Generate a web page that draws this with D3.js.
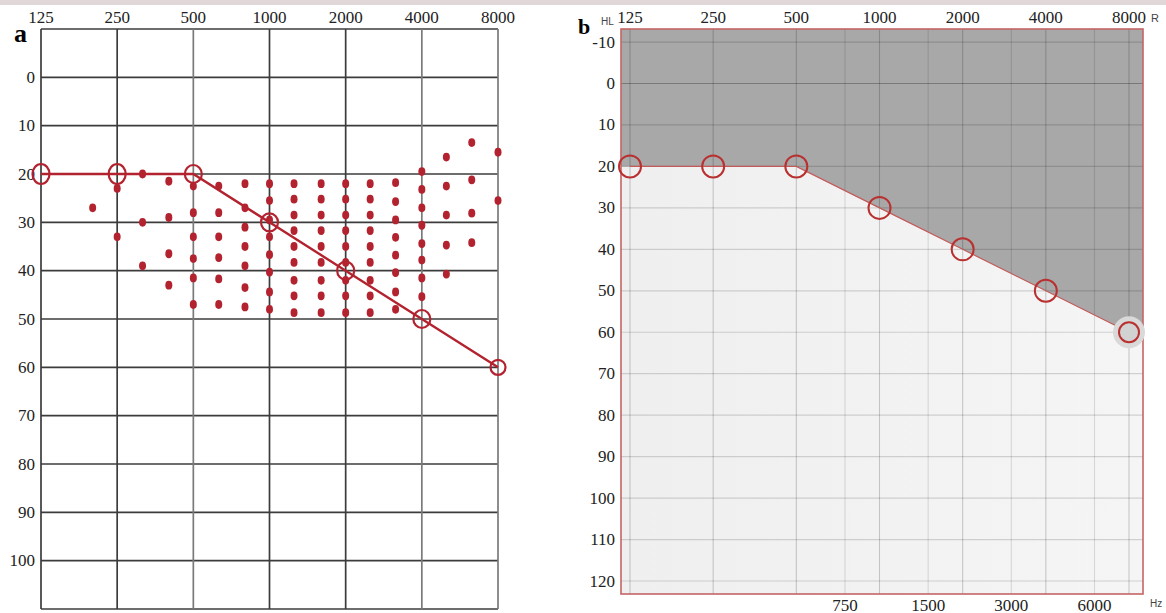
<!DOCTYPE html>
<html>
<head>
<meta charset="utf-8">
<script src="https://cdn.jsdelivr.net/npm/d3@7"></script>
<style>
  body { margin: 0; background: #fff; }
  svg { display: block; }
</style>
</head>
<body>
<div id="chart-area"></div>
<script>
// ---- data ----
const freqs = [125, 250, 500, 1000, 2000, 4000, 8000];
const thresholdA = [20, 20, 20, 30, 40, 50, 60];
const thresholdB = [20, 20, 20, 30, 40, 50, 60];
const dbTicksA = [0, 10, 20, 30, 40, 50, 60, 70, 80, 90, 100];
const dbTicksB = [-10, 0, 10, 20, 30, 40, 50, 60, 70, 80, 90, 100, 110, 120];
const midFreqsB = [750, 1500, 3000, 6000];

// scatter of individual thresholds (third-octave columns)
const dotFreqs = [200, 250, 315, 400, 500, 630, 800, 1000, 1250, 1600, 2000, 2500, 3150, 4000, 5000, 6300, 8000];
const dotLevels = [
  [27],
  [23, 33],
  [20, 30, 39],
  [21.5, 29, 36.5, 43],
  [22.5, 28, 33, 37.5, 41.5, 47],
  [22.5, 28, 33, 37.3, 41.7, 47],
  [22, 27, 31, 35, 39, 43.5, 47.5],
  [22, 25.5, 29.5, 33, 36.7, 40.3, 44.4, 48],
  [22, 25.2, 28.5, 31.7, 35, 38.3, 42, 45.2, 48.7],
  [22, 25.2, 28.5, 31.7, 35, 38.3, 42, 45.2, 48.7],
  [22, 25.2, 28.5, 31.7, 35, 38.3, 42, 45.2, 48.7],
  [22, 25.2, 28.5, 31.7, 35, 38.3, 42, 45.2, 48.7],
  [21.8, 25.7, 29.5, 33.1, 36.8, 40.4, 44.4, 48],
  [19.5, 23.2, 27, 30.6, 34.4, 37.8, 41.5, 45.4],
  [16.5, 22.5, 28.5, 34.7, 40.7],
  [13.5, 21.2, 28.1, 34.2],
  [15.5, 25.5]
];

const W = 1166, H = 613;
const red = "#b3232f";
const serif = "'Liberation Serif', 'DejaVu Serif', serif";
const sans = "'Liberation Sans', Arial, sans-serif";

const svg = d3.select("#chart-area")
  .append("svg")
    .attr("width", W)
    .attr("height", H);

// faint band along the top
svg.append("rect")
  .attr("x", 0).attr("y", 0)
  .attr("width", W).attr("height", 5)
  .attr("fill", "#e2d7d8");

// ================= panel a =================
const xA = d3.scaleLog().base(2).domain([125, 8000]).range([41, 498]);
const yA = d3.scaleLinear().domain([-10, 110]).range([29, 609]);

const gA = svg.append("g");

// horizontal grid
gA.selectAll(".hgrid")
  .data(d3.range(-10, 111, 10))
  .enter()
  .append("line")
    .attr("x1", xA(125)).attr("x2", xA(8000))
    .attr("y1", d => yA(d)).attr("y2", d => yA(d))
    .attr("stroke", "#3c3c3c")
    .attr("stroke-width", 1.7);

// vertical grid
const lightCols = [500, 4000, 8000];
gA.selectAll(".vgrid")
  .data(freqs)
  .enter()
  .append("line")
    .attr("x1", d => xA(d)).attr("x2", d => xA(d))
    .attr("y1", yA(-10)).attr("y2", yA(110))
    .attr("stroke", d => lightCols.includes(d) ? "#7a7a7a" : "#3c3c3c")
    .attr("stroke-width", 1.7);

// frequency labels on top
gA.selectAll(".flabel")
  .data(freqs)
  .enter()
  .append("text")
    .attr("x", d => xA(d))
    .attr("y", 17)
    .attr("text-anchor", "middle")
    .attr("dominant-baseline", "central")
    .style("font-family", serif)
    .style("font-size", "17px")
    .attr("fill", "#222")
    .text(d => d);

// level labels
gA.selectAll(".dblabel")
  .data(dbTicksA)
  .enter()
  .append("text")
    .attr("x", 35)
    .attr("y", d => yA(d))
    .attr("text-anchor", "end")
    .attr("dominant-baseline", "central")
    .style("font-family", serif)
    .style("font-size", "17px")
    .attr("fill", "#222")
    .text(d => d);

gA.append("text")
  .attr("x", 14).attr("y", 42)
  .style("font-family", serif)
  .style("font-size", "26px")
  .style("font-weight", "bold")
  .text("a");

// individual dots
const dots = dotFreqs.flatMap((f, i) => dotLevels[i].map(v => ({ f, v })));
gA.selectAll(".dot")
  .data(dots)
  .enter()
  .append("ellipse")
    .attr("cx", d => xA(d.f))
    .attr("cy", d => yA(d.v))
    .attr("rx", 3.5)
    .attr("ry", 4.4)
    .attr("fill", red);

// threshold line + circles
const ptsA = freqs.map((f, i) => ({ f, v: thresholdA[i] }));
gA.append("path")
  .datum(ptsA)
  .attr("fill", "none")
  .attr("stroke", red)
  .attr("stroke-width", 2.4)
  .attr("d", d3.line().x(d => xA(d.f)).y(d => yA(d.v)));

gA.selectAll(".ring")
  .data(ptsA)
  .enter()
  .append("ellipse")
    .attr("cx", d => xA(d.f))
    .attr("cy", d => yA(d.v))
    .attr("rx", (d, i) => i === 6 ? 7.5 : 8.5)
    .attr("ry", (d, i) => i < 2 ? 10 : (i === 6 ? 7.5 : 9))
    .attr("fill", "none")
    .attr("stroke", red)
    .attr("stroke-width", 2.2);

// ================= panel b =================
const bLeft = 621, bRight = 1143, bTop = 29, bBottom = 594;
const xB = d3.scaleLog().base(2).domain([125, 8000]).range([630, 1129]);
const yB = d3.scaleLinear().domain([0, 120]).range([83.5, 581]);

const gB = svg.append("g");

const bgGrad = svg.append("defs").append("linearGradient")
  .attr("id", "bg-b").attr("x1", 0).attr("x2", 1).attr("y1", 0).attr("y2", 0);
bgGrad.append("stop").attr("offset", 0).attr("stop-color", "#efefef");
bgGrad.append("stop").attr("offset", 1).attr("stop-color", "#f5f5f5");

gB.append("rect")
  .attr("x", bLeft).attr("y", bTop)
  .attr("width", bRight - bLeft).attr("height", bBottom - bTop)
  .attr("fill", "url(#bg-b)");

// grey region above the threshold
const ptsB = freqs.map((f, i) => ({ f, v: thresholdB[i] }));
const lastSlope = (yB(thresholdB[6]) - yB(thresholdB[5])) / (xB(8000) - xB(4000));
const edgeY = yB(thresholdB[6]) + lastSlope * (bRight - xB(8000));
const poly = [[bLeft, bTop], [bRight, bTop], [bRight, edgeY]]
  .concat(ptsB.slice().reverse().map(d => [xB(d.f), yB(d.v)]))
  .concat([[bLeft, yB(thresholdB[0])]]);
gB.append("polygon")
  .attr("points", poly.map(p => p.join(",")).join(" "))
  .attr("fill", "#a8a8a8");

// grid
gB.selectAll(".hgrid")
  .data(dbTicksB)
  .enter()
  .append("line")
    .attr("x1", bLeft).attr("x2", bRight)
    .attr("y1", d => yB(d)).attr("y2", d => yB(d))
    .attr("stroke", d => d === 0 ? "rgba(0,0,0,0.28)" : "rgba(0,0,0,0.15)")
    .attr("stroke-width", 1.2);

gB.selectAll(".vgrid")
  .data(freqs.concat(midFreqsB))
  .enter()
  .append("line")
    .attr("x1", d => xB(d)).attr("x2", d => xB(d))
    .attr("y1", bTop).attr("y2", bBottom)
    .attr("stroke", d => midFreqsB.includes(d) ? "rgba(0,0,0,0.12)" : "rgba(0,0,0,0.19)")
    .attr("stroke-width", 1.1);

// threshold boundary
gB.append("path")
  .datum(ptsB)
  .attr("fill", "none")
  .attr("stroke", "#c45a5a")
  .attr("stroke-width", 1.2)
  .attr("d", d3.line().x(d => xB(d.f)).y(d => yB(d.v)));

// frame
gB.append("rect")
  .attr("x", bLeft).attr("y", bTop)
  .attr("width", bRight - bLeft).attr("height", bBottom - bTop)
  .attr("fill", "none")
  .attr("stroke", "#c46464")
  .attr("stroke-width", 1.6);

// halo at last point
const last = ptsB[ptsB.length - 1];
gB.append("circle")
  .attr("cx", xB(last.f)).attr("cy", yB(last.v))
  .attr("r", 16)
  .attr("fill", "#d9d9d9");

gB.selectAll(".ring")
  .data(ptsB)
  .enter()
  .append("circle")
    .attr("cx", d => xB(d.f))
    .attr("cy", d => yB(d.v))
    .attr("r", (d, i) => i === 6 ? 10 : 11)
    .attr("fill", (d, i) => i === 6 ? "#d2d2d2" : "none")
    .attr("stroke", "#b8302f")
    .attr("stroke-width", 2);

// labels
gB.selectAll(".flabel")
  .data(freqs)
  .enter()
  .append("text")
    .attr("x", d => xB(d))
    .attr("y", 17)
    .attr("text-anchor", "middle")
    .attr("dominant-baseline", "central")
    .style("font-family", serif)
    .style("font-size", "17px")
    .attr("fill", "#222")
    .text(d => d);

gB.selectAll(".mlabel")
  .data(midFreqsB)
  .enter()
  .append("text")
    .attr("x", d => xB(d))
    .attr("y", 605)
    .attr("text-anchor", "middle")
    .attr("dominant-baseline", "central")
    .style("font-family", serif)
    .style("font-size", "17px")
    .attr("fill", "#222")
    .text(d => d);

gB.selectAll(".dblabel")
  .data(dbTicksB)
  .enter()
  .append("text")
    .attr("x", 615)
    .attr("y", d => yB(d))
    .attr("text-anchor", "end")
    .attr("dominant-baseline", "central")
    .style("font-family", serif)
    .style("font-size", "17px")
    .attr("fill", "#222")
    .text(d => d);

gB.append("text")
  .attr("x", 578).attr("y", 34)
  .style("font-family", serif)
  .style("font-size", "22px")
  .style("font-weight", "bold")
  .text("b");

gB.append("text")
  .attr("x", 601).attr("y", 25)
  .style("font-family", sans)
  .style("font-size", "10px")
  .attr("fill", "#444")
  .text("HL");

gB.append("text")
  .attr("x", 1151).attr("y", 22)
  .style("font-family", sans)
  .style("font-size", "11px")
  .attr("fill", "#444")
  .text("R");

gB.append("text")
  .attr("x", 1150).attr("y", 607)
  .style("font-family", sans)
  .style("font-size", "10px")
  .attr("fill", "#444")
  .text("Hz");
</script>
</body>
</html>
